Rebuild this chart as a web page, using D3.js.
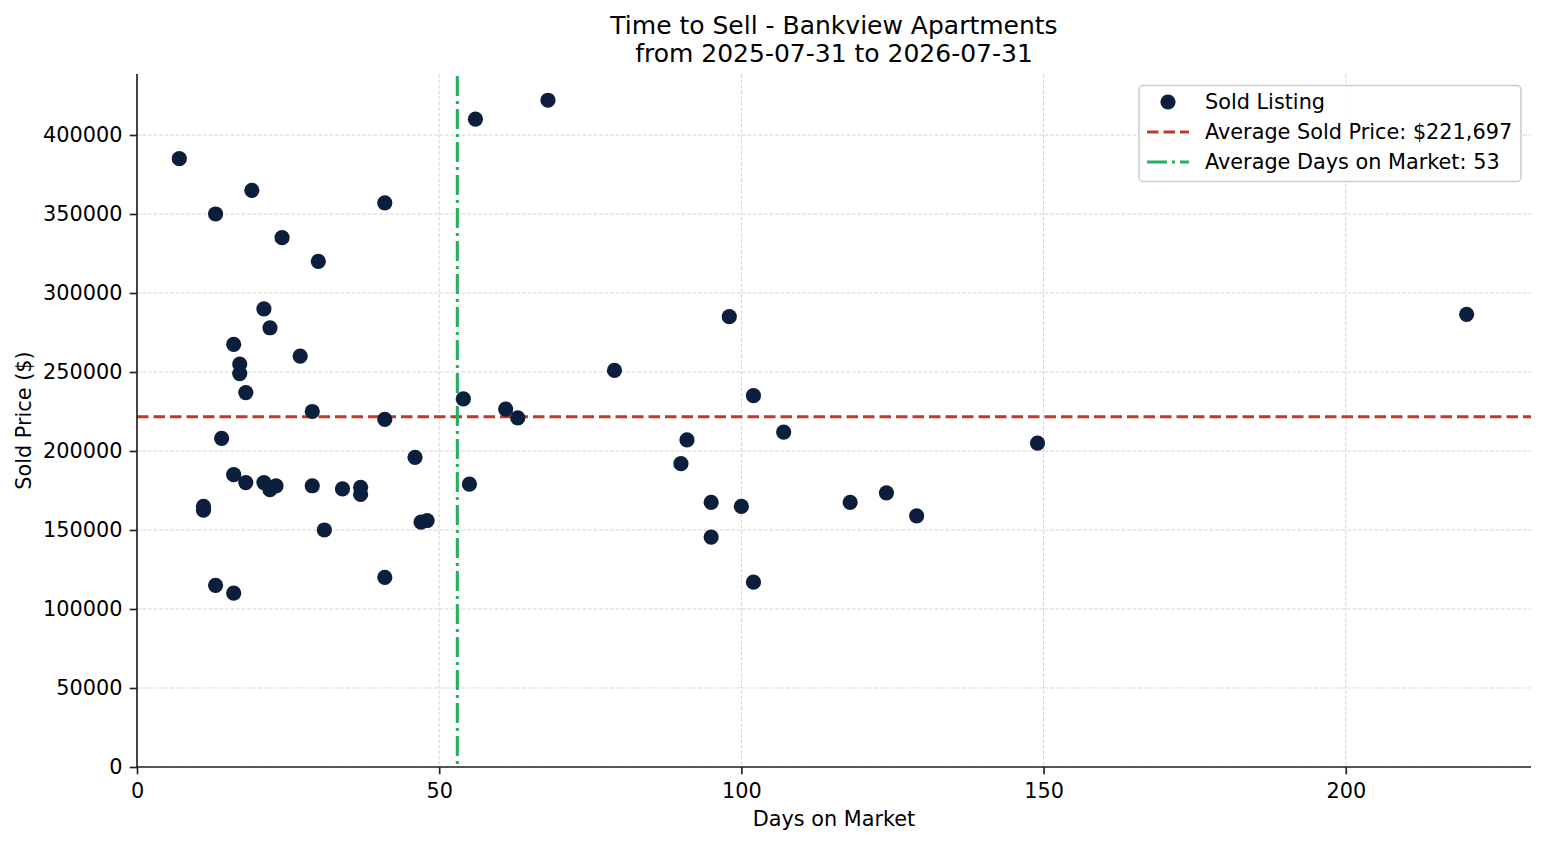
<!DOCTYPE html>
<html><head><meta charset="utf-8">
<script src="https://cdn.jsdelivr.net/npm/d3@7"></script>
<style>
body{margin:0;background:#fff;}
svg{font-family:"DejaVu Sans",sans-serif;}
</style></head>
<body><svg id="c" width="1547" height="845"></svg>
<script>
const daysOnMarket = [7,13,19,24,30,41,56,68,21,22,16,17,17,18,27,29,41,14,16,18,21,22,23,29,34,37,37,31,11,11,13,16,41,46,47,48,54,55,61,63,79,98,102,107,91,90,95,100,95,102,118,124,129,149,220];
const soldPrice = [385000,350000,365000,335000,320000,357000,410000,422000,290000,278000,267500,255000,249000,237000,260000,225000,220000,208000,185000,180000,180000,175500,178000,178000,176000,177000,172500,150000,165000,162500,115000,110000,120000,196000,155000,156000,233000,179000,226500,221000,251000,285000,235000,212000,207000,192000,167500,165000,145500,117000,167500,173500,159000,205000,286500];
const avgPrice = 221697;
const avgDays = 53;
const xTicks = [0,50,100,150,200];
const yTicks = [0,50000,100000,150000,200000,250000,300000,350000,400000];
const titleLines = ["Time to Sell - Bankview Apartments","from 2025-07-31 to 2026-07-31"];
const legendLabels = ["Sold Listing","Average Sold Price: $221,697","Average Days on Market: 53"];

const svg = d3.select("#c");
const L=137,R=1531,T=74,B=767;
const x = d3.scaleLinear().domain([0,230.65]).range([L,R]);
const y = d3.scaleLinear().domain([0,438600]).range([B,T]);
const dotColor="#0b1e3b", red="#c0392b", green="#27ae60";
const FS=20.8;

// grid
svg.append("g").selectAll("line").data(xTicks).join("line")
  .attr("x1",d=>x(d)).attr("x2",d=>x(d)).attr("y1",T).attr("y2",B)
  .attr("stroke","#d6d6d6").attr("stroke-width",1).attr("stroke-dasharray","3.8,1.7");
svg.append("g").selectAll("line").data(yTicks).join("line")
  .attr("x1",L).attr("x2",R).attr("y1",d=>y(d)).attr("y2",d=>y(d))
  .attr("stroke","#d6d6d6").attr("stroke-width",1).attr("stroke-dasharray","3.8,1.7");

// avg lines
svg.append("line").attr("x1",L).attr("x2",R).attr("y1",y(avgPrice)).attr("y2",y(avgPrice))
  .attr("stroke",red).attr("stroke-width",3.1).attr("stroke-dasharray","11.5,5");
svg.append("line").attr("x1",x(avgDays)).attr("x2",x(avgDays)).attr("y1",T+2).attr("y2",B)
  .attr("stroke",green).attr("stroke-width",3.1).attr("stroke-dasharray","20,5,3,5");

// points
svg.append("g").selectAll("circle").data(daysOnMarket.map((d,i)=>[d,soldPrice[i]])).join("circle")
  .attr("cx",d=>x(d[0])).attr("cy",d=>y(d[1])).attr("r",7.6).attr("fill",dotColor);

// axes
const xa = svg.append("g").attr("transform",`translate(0,${B})`)
  .call(d3.axisBottom(x).tickValues(xTicks).tickSize(7.3).tickPadding(8.5).tickSizeOuter(0));
const ya = svg.append("g").attr("transform",`translate(${L},0)`)
  .call(d3.axisLeft(y).tickValues(yTicks).tickFormat(d3.format("d")).tickSize(7.3).tickPadding(7.3).tickSizeOuter(0));
[xa,ya].forEach(a=>{
  a.attr("font-size",FS).attr("font-family","DejaVu Sans");
  a.selectAll("text").attr("font-size",FS).attr("fill","#000");
  a.selectAll("line").attr("stroke","#222").attr("stroke-width",1.67);
  a.select(".domain").attr("stroke","#222").attr("stroke-width",1.67);
});
ya.select(".domain").attr("d",`M0,${B}V${T}`);
xa.select(".domain").attr("d",`M${L},0H${R}`);

// titles
svg.append("g").selectAll("text").data(titleLines).join("text")
  .attr("x",(L+R)/2).attr("y",(d,i)=>33.5+i*28.5).attr("text-anchor","middle")
  .attr("font-size",25).attr("fill","#000").text(d=>d);
svg.append("text").attr("x",(L+R)/2).attr("y",826).attr("text-anchor","middle")
  .attr("font-size",FS).text("Days on Market");
svg.append("text").attr("transform",`translate(31,${(T+B)/2}) rotate(-90)`).attr("text-anchor","middle")
  .attr("font-size",FS).text("Sold Price ($)");

// legend
const lg = svg.append("g");
lg.append("rect").attr("x",1139).attr("y",85.5).attr("width",382).attr("height",96).attr("rx",4)
  .attr("fill","#fff").attr("fill-opacity",0.85).attr("stroke","#cccccc").attr("stroke-width",1.5);
const rowsY=[102,132,162];
lg.append("circle").attr("cx",1168).attr("cy",rowsY[0]).attr("r",7.6).attr("fill",dotColor);
lg.append("line").attr("x1",1147).attr("x2",1189).attr("y1",rowsY[1]).attr("y2",rowsY[1])
  .attr("stroke",red).attr("stroke-width",3.1).attr("stroke-dasharray","11.5,5");
lg.append("line").attr("x1",1147).attr("x2",1189).attr("y1",rowsY[2]).attr("y2",rowsY[2])
  .attr("stroke",green).attr("stroke-width",3.1).attr("stroke-dasharray","20,5,3,5");
lg.selectAll("text.l").data(legendLabels).join("text").attr("class","l")
  .attr("x",1205).attr("y",(d,i)=>rowsY[i]+7).attr("font-size",FS).attr("fill","#000").text(d=>d);
</script></body></html>
